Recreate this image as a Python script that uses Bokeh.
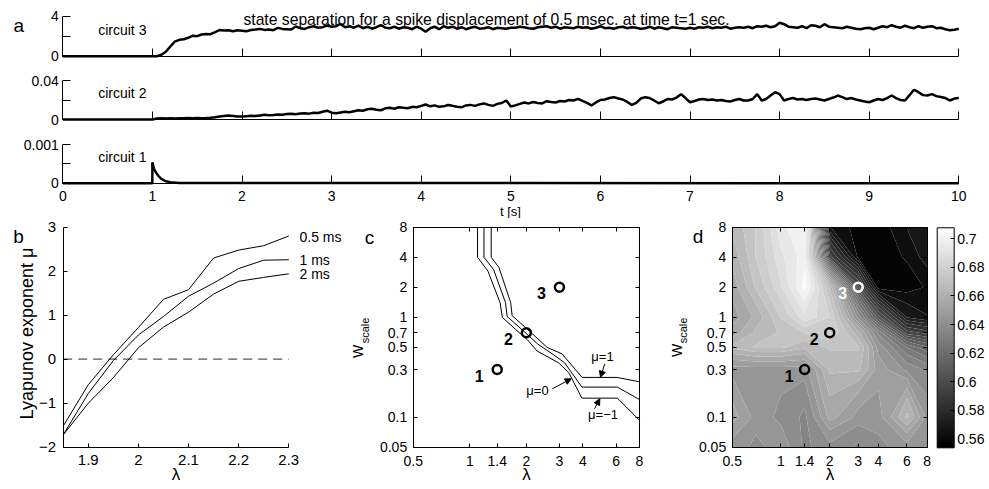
import numpy as np
from bokeh.plotting import figure
from bokeh.models import (FixedTicker, Arrow, NormalHead, ColorBar,
                          LinearColorMapper, LogAxis, Range1d)
from bokeh.layouts import column, row
from bokeh.embed import file_html
from bokeh.resources import INLINE
from bokeh.core.properties import value

FONT = "Liberation Sans"

# ---------------- data: panel a (state separation traces) ----------------
TRACE_T0, TRACE_DT = 1.0, 0.05          # samples from t = 1 s to t = 10 s
circuit3 = [
    0.00, 0.00, 0.15, 0.45, 0.97, 1.45, 1.64, 1.70, 1.84, 2.05, 2.00, 2.17, 2.23, 2.20, 2.40, 2.62, 2.57, 2.60, 2.50, 2.60, 2.55,
    2.50, 2.62, 2.67, 2.73, 2.63, 2.67, 2.60, 2.83, 2.73, 2.70, 2.67, 2.97, 2.80, 2.73, 2.90, 3.00, 2.85, 2.90, 3.07, 2.95,
    3.00, 3.23, 2.90, 3.00, 2.85, 3.05, 2.80, 2.95, 2.75, 2.90, 3.10, 2.85, 2.80, 2.95, 2.75, 2.90, 2.85, 2.70, 2.95, 2.75,
    2.45, 2.80, 2.95, 2.70, 3.00, 2.85, 2.95, 2.75, 2.90, 2.70, 2.85, 2.95, 2.75, 2.80, 2.90, 2.70, 2.85, 2.80, 2.75, 2.85,
    2.85, 2.95, 2.90, 2.80, 2.75, 2.90, 2.95, 3.00, 2.85, 2.95, 2.75, 2.90, 2.85, 2.80, 2.95, 2.85, 2.90, 2.75, 2.85, 3.00,
    2.80, 2.85, 2.75, 2.90, 2.95, 2.80, 2.90, 2.85, 2.75, 2.80, 2.95, 2.75, 2.90, 2.80, 2.70, 2.90, 2.85, 2.80, 2.75, 2.85,
    2.75, 2.90, 2.85, 2.95, 2.80, 2.90, 2.85, 2.95, 2.75, 2.85, 2.90, 2.85, 2.95, 2.80, 3.00, 2.95, 3.05, 2.90, 3.00, 3.35,
    3.20, 2.95, 2.90, 2.85, 3.00, 2.80, 3.10, 3.05, 2.90, 3.20, 2.95, 2.90, 2.85, 2.80, 2.95, 2.85, 2.75, 2.70, 2.80, 2.85,
    2.70, 2.85, 3.00, 2.90, 3.10, 2.95, 2.85, 3.05, 2.90, 2.80, 3.00, 2.85, 2.95, 3.00, 2.80, 2.85, 2.70, 2.60, 2.65, 2.75,
]
circuit2_milli = [   # in units of 1e-3
    0.0, 1.0, 1.2, 1.0, 1.3, 1.1, 1.4, 1.2, 1.5, 1.3, 1.6, 1.4, 1.5, 1.7, 2.2, 3.0, 3.5, 4.0, 3.6, 3.2, 3.0,
    3.4, 3.8, 3.5, 4.2, 4.8, 4.4, 4.6, 5.2, 4.9, 5.6, 6.0, 5.4, 6.2, 6.5, 6.0, 7.0, 6.6, 8.0, 9.0, 7.0,
    6.5, 7.2, 8.0, 7.5, 8.5, 9.5, 9.0, 10.5, 11.0, 10.0, 9.5, 11.5, 12.0, 11.0, 12.6, 12.0, 11.5, 13.0, 12.5, 14.0,
    15.4, 13.5, 14.5, 13.0, 13.5, 14.8, 14.0, 13.0, 12.5, 14.4, 15.0, 14.0, 15.5, 16.5, 15.0, 14.0, 16.0, 17.0, 19.5, 13.3,
    14.5, 16.0, 17.5, 16.5, 18.0, 17.0, 16.5, 18.8, 18.0, 17.5, 19.0, 18.5, 20.0, 19.5, 21.2, 19.0, 17.0, 14.4, 17.5, 20.0,
    20.5, 22.0, 22.9, 21.5, 20.5, 18.0, 15.0, 17.0, 21.5, 22.9, 22.0, 19.5, 16.7, 18.5, 21.0, 20.5, 22.5, 26.0, 22.0, 17.7,
    19.0, 20.5, 21.0, 20.0, 20.5, 19.5, 20.0, 19.0, 18.5, 20.0, 21.0, 19.5, 19.5, 21.0, 26.0, 19.5, 21.0, 24.5, 28.0, 26.0,
    19.5, 21.0, 22.0, 20.5, 21.0, 20.0, 21.0, 21.5, 20.5, 19.5, 21.0, 22.5, 24.6, 23.0, 21.0, 22.0, 20.5, 19.5, 18.5, 17.7,
    19.5, 21.0, 20.0, 22.0, 24.6, 22.0, 20.0, 19.5, 25.0, 30.5, 28.0, 25.0, 24.6, 26.0, 24.0, 23.0, 22.0, 19.5, 21.5, 22.0,
]
circuit1_t = [0.0, 0.999, 1.0, 1.01, 1.02, 1.04, 1.06, 1.08, 1.10, 1.15, 1.20, 1.30, 10.0]
circuit1 = [0.0, 0.0, 5.4e-4, 4.4e-4, 3.6e-4, 2.8e-4, 2.1e-4, 1.55e-4, 1.1e-4, 5e-5, 2.5e-5, 5e-6, 0.0]
a_xticks = list(range(11))
a_xlabels = [str(v) for v in a_xticks]

# ---------------- data: panel b (Lyapunov exponent) ----------------
lam_b = [1.85, 1.90, 1.95, 2.00, 2.05, 2.10, 2.15, 2.20, 2.25, 2.30]
mu_05ms = [-1.52, -0.58, 0.10, 0.72, 1.36, 1.58, 2.30, 2.48, 2.58, 2.80]
mu_1ms = [-1.72, -0.78, -0.03, 0.55, 0.97, 1.43, 1.73, 2.06, 2.25, 2.26]
mu_2ms = [-1.72, -1.00, -0.42, 0.26, 0.73, 1.07, 1.48, 1.77, 1.86, 1.94]
b_series_names = ["0.5 ms", "1 ms", "2 ms"]
b_xticks = [1.9, 2.0, 2.1, 2.2, 2.3]
b_xlabels = ["1.9", "2", "2.1", "2.2", "2.3"]
b_yticks = [-2, -1, 0, 1, 2, 3]
b_ylabels = ["\u22122", "\u22121", "0", "1", "2", "3"]

# ---------------- data: panel c (mu = -1, 0, 1 contour lines) ----------------
c_lam_m1 = [1.10, 1.10, 1.25, 1.45, 1.49, 1.75, 2.02, 2.28, 2.97, 3.36, 3.95, 6.1, 8.0]
c_w_m1 = [8.0, 4.0, 2.9, 1.4, 1.0, 0.76, 0.60, 0.46, 0.35, 0.28, 0.155, 0.155, 0.093]
c_lam_0 = [1.19, 1.19, 1.34, 1.55, 1.58, 1.87, 2.30, 2.80, 3.20, 3.95, 6.1, 8.0]
c_w_0 = [8.0, 4.0, 3.0, 1.4, 1.02, 0.77, 0.54, 0.42, 0.35, 0.20, 0.20, 0.15]
c_lam_p1 = [1.30, 1.30, 1.43, 1.65, 1.68, 1.98, 2.58, 3.10, 3.96, 6.08, 8.0]
c_w_p1 = [8.0, 4.0, 3.16, 1.41, 1.04, 0.79, 0.50, 0.43, 0.25, 0.25, 0.226]
circuit_lam = [1.4, 2.0, 3.0]
circuit_w = [0.3, 0.7, 2.0]
circuit_names = ["1", "2", "3"]
cd_xticks = [0.5, 1, 1.4, 2, 3, 4, 6, 8]
cd_xlabels = ["0.5", "1", "1.4", "2", "3", "4", "6", "8"]
cd_yticks = [0.05, 0.1, 0.3, 0.5, 0.7, 1, 2, 4, 8]
cd_ylabels = ["0.05", "0.1", "0.3", "0.5", "0.7", "1", "2", "4", "8"]

# ---------------- data: panel d (grid of values) ----------------
lam_d = [0.5, 0.7, 1, 1.4, 2, 3, 4, 6, 8]
w_d = [0.05, 0.1, 0.3, 0.5, 0.7, 1, 2, 4, 8]
d_values = [  # rows: w_d ascending, columns: lam_d ascending
    [0.645, 0.640, 0.645, 0.635, 0.640, 0.635, 0.640, 0.645, 0.645],
    [0.655, 0.645, 0.640, 0.635, 0.655, 0.645, 0.645, 0.665, 0.645],
    [0.645, 0.645, 0.645, 0.645, 0.665, 0.665, 0.650, 0.640, 0.635],
    [0.665, 0.670, 0.670, 0.665, 0.670, 0.670, 0.645, 0.625, 0.615],
    [0.655, 0.665, 0.670, 0.675, 0.680, 0.660, 0.635, 0.595, 0.590],
    [0.650, 0.660, 0.675, 0.690, 0.680, 0.640, 0.605, 0.570, 0.565],
    [0.655, 0.670, 0.685, 0.705, 0.668, 0.600, 0.556, 0.556, 0.560],
    [0.660, 0.675, 0.690, 0.700, 0.595, 0.558, 0.556, 0.560, 0.568],
    [0.665, 0.675, 0.695, 0.703, 0.565, 0.556, 0.556, 0.565, 0.570],
]
CB_LOW, CB_HIGH = 0.5537, 0.7077
cb_ticks = [0.56, 0.58, 0.60, 0.62, 0.64, 0.66, 0.68, 0.70]
cb_labels = ["0.56", "0.58", "0.6", "0.62", "0.64", "0.66", "0.68", "0.7"]


# ---------------- helpers ----------------
def lin_map(p0, v0, p1, v1):
    k = (v1 - v0) / (p1 - p0)
    return lambda p: v0 + (p - p0) * k


def log_map(p0, v0, p1, v1):
    l0, l1 = np.log10(v0), np.log10(v1)
    k = (l1 - l0) / (p1 - p0)
    return lambda p: float(10 ** (l0 + (p - p0) * k))


def gray_hex(f):
    v = int(round(max(0.0, min(1.0, f)) * 255))
    return "#%02x%02x%02x" % (v, v, v)


GRAY256 = [gray_hex(i / 255) for i in range(256)]


def panel_fig(x0, x1, y0, y1, fx, fy, **kw):
    """Figure covering page pixels x0..x1, y0..y1; its frame fills it."""
    p = figure(width=int(round(x1 - x0)), height=int(round(y1 - y0)),
               x_range=Range1d(fx(x0), fx(x1)), y_range=Range1d(fy(y1), fy(y0)),
               min_border=0, output_backend="svg", toolbar_location=None,
               title=None, **kw)
    p.xgrid.visible = False
    p.ygrid.visible = False
    p.outline_line_color = None
    p.background_fill_color = "white"
    p.border_fill_color = "white"
    return p


def axis_cfg(ax, loc, bounds, ticks, labels, tick_len, size="14px", standoff=5):
    ax.fixed_location = loc
    ax.bounds = bounds
    ax.ticker = FixedTicker(ticks=ticks)
    ax.major_label_overrides = dict(zip(ticks, labels))
    ax.major_tick_in = tick_len
    ax.major_tick_out = 0
    ax.minor_tick_line_color = None
    ax.axis_line_color = "black"
    ax.axis_line_width = 1
    ax.major_tick_line_color = "black"
    ax.major_label_text_font = FONT
    ax.major_label_text_font_size = size
    ax.major_label_text_color = "black"
    ax.major_label_standoff = standoff


def txt(p, fx, fy, px, py, s, size="14px", align="center", baseline="middle",
        angle=0.0, color="black", style="normal"):
    p.text(x=[fx(px)], y=[fy(py)], text=[s], text_font=value(FONT),
           text_font_size=size, text_align=align, text_baseline=baseline,
           angle=angle, text_color=color, text_font_style=style)


# pixel anchors
tx = lin_map(62.3, 0, 958.3, 10)
a3y = lin_map(55.7, 0, 15.7, 4)
a2y = lin_map(119.0, 0, 80.0, 0.04)
a1y = lin_map(182.7, 0, 144.0, 0.001)
bx = lin_map(62.7, 1.85, 288.3, 2.3)
by = lin_map(446.7, -2, 226.7, 3)
cx = log_map(412.7, 0.5, 639.0, 8)
dx = log_map(731.7, 0.5, 926.7, 8)
cdy = log_map(446.7, 0.05, 226.7, 8)

W_ALL, ROW_TOP, H_ALL = 989, 218, 489

# ---------------- panel a ----------------
trace_t = np.concatenate([[0.0], TRACE_T0 + TRACE_DT * np.arange(len(circuit3))])
c3 = np.concatenate([[0.0], circuit3])
c2 = np.concatenate([[0.0], np.array(circuit2_milli) / 1000.0])

pa3 = panel_fig(0, W_ALL, 0, 68, tx, a3y)
axis_cfg(pa3.xaxis[0], 0, (0, 10), a_xticks, [""] * 11, 8)
axis_cfg(pa3.yaxis[0], 0, (0, 4), [0, 2, 4], ["0", "", "4"], 8, "14px", 4)
pa3.line(trace_t, c3, line_color="black", line_width=2.5)
txt(pa3, tx, a3y, 18.3, 25, "a", size="19px", baseline="alphabetic")
txt(pa3, tx, a3y, 486, 19,
    "state separation for a spike displacement of 0.5 msec. at time t=1 sec.",
    size="15.7px", baseline="alphabetic")
txt(pa3, tx, a3y, 97.7, 29.3, "circuit 3", align="left", baseline="alphabetic")

pa2 = panel_fig(0, W_ALL, 68, 131, tx, a2y)
axis_cfg(pa2.xaxis[0], 0, (0, 10), a_xticks, [""] * 11, 8)
axis_cfg(pa2.yaxis[0], 0, (0, 0.04), [0, 0.02, 0.04], ["0", "", "0.04"], 8, "14px", 4)
pa2.line(trace_t, c2, line_color="black", line_width=2.5)
txt(pa2, tx, a2y, 97.7, 92.7, "circuit 2", align="left", baseline="alphabetic")

pa1 = panel_fig(0, W_ALL, 131, ROW_TOP, tx, a1y)
axis_cfg(pa1.xaxis[0], 0, (0, 10), a_xticks, a_xlabels, 8, "14px", 8)
axis_cfg(pa1.yaxis[0], 0, (0, 0.001), [0, 0.0005, 0.001], ["0", "", "0.001"], 8, "14px", 4)
pa1.line(circuit1_t, circuit1, line_color="black", line_width=2.5)
txt(pa1, tx, a1y, 97.7, 156, "circuit 1", align="left", baseline="alphabetic")
txt(pa1, tx, a1y, 510, 210.5, "t [s]", size="13px")

# ---------------- panel b ----------------
pb = panel_fig(0, 348, ROW_TOP, H_ALL, bx, by)
axis_cfg(pb.xaxis[0], -2, (1.85, 2.3), b_xticks, b_xlabels, 4, "15px", 8)
axis_cfg(pb.yaxis[0], 1.85, (-2, 3), b_yticks, b_ylabels, 4, "15px", 7)
pb.line([lam_b[0], lam_b[-1]], [0, 0], line_color="#555555", line_dash="9 6", line_width=1.2)
for vals in (mu_05ms, mu_1ms, mu_2ms):
    pb.line(lam_b, vals, line_color="black", line_width=1)
for name, py in zip(b_series_names, (236.5, 259.7, 273.0)):
    txt(pb, bx, by, 299, py, name, align="left")
txt(pb, bx, by, 18, 235.5, "b", size="19px", baseline="alphabetic")
txt(pb, bx, by, 26.5, 333, "Lyapunov exponent \u03bc", size="18px", angle=np.pi / 2)
txt(pb, bx, by, 175.5, 474, "\u03bb", size="17px")

# ---------------- panel c ----------------
pc = panel_fig(348, 669, ROW_TOP, H_ALL, cx, cdy, x_axis_type="log", y_axis_type="log")
axis_cfg(pc.xaxis[0], 0.05, (0.5, 8), cd_xticks, cd_xlabels, 4, "14px", 9)
axis_cfg(pc.yaxis[0], 0.5, (0.05, 8), cd_yticks, cd_ylabels, 4, "14px", 6)
c_top = LogAxis()
pc.add_layout(c_top, "above")
axis_cfg(c_top, 8, (0.5, 8), cd_xticks, [""] * len(cd_xticks), 4)
c_right = LogAxis()
pc.add_layout(c_right, "right")
axis_cfg(c_right, 8, (0.05, 8), cd_yticks, [""] * len(cd_yticks), 4)
for lx, wy in ((c_lam_m1, c_w_m1), (c_lam_0, c_w_0), (c_lam_p1, c_w_p1)):
    pc.line(lx, wy, line_color="black", line_width=1)
pc.scatter(circuit_lam, circuit_w, marker="circle", size=9, fill_color=None,
           line_color="black", line_width=2.5)
pc.text(circuit_lam, circuit_w, text=circuit_names, x_offset=-18, y_offset=6,
        text_align="center", text_baseline="middle", text_font=value(FONT),
        text_font_style="bold", text_font_size="16px", text_color="black")
for s, (lx, ly), (sx, sy), (ex, ey) in (
        ("\u03bc=1", (602, 356), (604.3, 363.3), (600.0, 376.7)),
        ("\u03bc=0", (537, 390), (551.7, 388.3), (570.7, 378.3)),
        ("\u03bc=\u22121", (602.5, 414), (594.0, 408.3), (599.3, 398.3))):
    txt(pc, cx, cdy, lx, ly, s, size="13px")
    pc.add_layout(Arrow(end=NormalHead(size=6, fill_color="black", line_color="black"),
                        x_start=cx(sx), y_start=cdy(sy), x_end=cx(ex), y_end=cdy(ey),
                        line_color="black", line_width=1))
txt(pc, cx, cdy, 369, 236.7, "c", size="19px", baseline="alphabetic")
txt(pc, cx, cdy, 357.5, 351, "W", size="14px", angle=np.pi / 2)
txt(pc, cx, cdy, 364, 330, "scale", size="11px", angle=np.pi / 2)
txt(pc, cx, cdy, 526, 474, "\u03bb", size="17px")

# ---------------- panel d ----------------
pdd = panel_fig(669, W_ALL, ROW_TOP, H_ALL, dx, cdy, x_axis_type="log", y_axis_type="log")
levels = np.linspace(CB_LOW, CB_HIGH, 29)
mids = (levels[:-1] + levels[1:]) / 2
fills = [gray_hex((m - CB_LOW) / (CB_HIGH - CB_LOW)) for m in mids]
pdd.contour(lam_d, w_d, np.array(d_values), levels=list(levels),
            fill_color=fills, line_color=None)
axis_cfg(pdd.xaxis[0], 0.05, (0.5, 8), cd_xticks, cd_xlabels, 4, "14px", 9)
axis_cfg(pdd.yaxis[0], 0.5, (0.05, 8), cd_yticks, cd_ylabels, 4, "14px", 6)
d_top = LogAxis()
pdd.add_layout(d_top, "above")
axis_cfg(d_top, 8, (0.5, 8), cd_xticks, [""] * len(cd_xticks), 4)
d_right = LogAxis()
pdd.add_layout(d_right, "right")
axis_cfg(d_right, 8, (0.05, 8), cd_yticks, [""] * len(cd_yticks), 4)
mark_colors = ["black", "black", "white"]
pdd.scatter(circuit_lam, circuit_w, marker="circle", size=9, fill_color=None,
            line_color=mark_colors, line_width=2.5)
pdd.text(circuit_lam, circuit_w, text=circuit_names, x_offset=-15.5, y_offset=6,
         text_align="center", text_baseline="middle", text_font=value(FONT),
         text_font_style="bold", text_font_size="16px", text_color=mark_colors)
mapper = LinearColorMapper(palette=GRAY256, low=CB_LOW, high=CB_HIGH)
cb = ColorBar(color_mapper=mapper, ticker=FixedTicker(ticks=cb_ticks),
              major_label_overrides=dict(zip(cb_ticks, cb_labels)),
              width=17, height=220, padding=0, margin=0,
              location=(936.7 - 669, H_ALL - 447.3),
              bar_line_color="black", major_tick_line_color="black",
              major_tick_in=4, major_tick_out=0, minor_tick_line_color=None,
              label_standoff=3, major_label_text_font=FONT,
              major_label_text_font_size="14px", major_label_text_color="black",
              background_fill_color=None, border_line_color=None)
pdd.add_layout(cb)
txt(pdd, dx, cdy, 697.5, 235.5, "d", size="19px", baseline="alphabetic")
txt(pdd, dx, cdy, 676.7, 350, "W", size="14px", angle=np.pi / 2)
txt(pdd, dx, cdy, 682.5, 330, "scale", size="11px", angle=np.pi / 2)
txt(pdd, dx, cdy, 829.5, 474, "\u03bb", size="17px")

layout = column(pa3, pa2, pa1, row(pb, pc, pdd))
open("out.html", "w").write(file_html(layout, INLINE, "figure"))
